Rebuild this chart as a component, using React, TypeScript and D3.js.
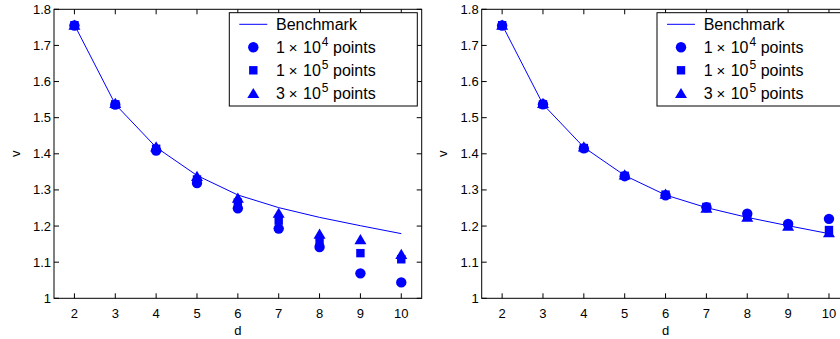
import React from 'react';
import * as d3 from 'd3';

// dimension d on the x axis
const dims = [2, 3, 4, 5, 6, 7, 8, 9, 10];
const xTicks = [2, 3, 4, 5, 6, 7, 8, 9, 10];
const yTicks = [1, 1.1, 1.2, 1.3, 1.4, 1.5, 1.6, 1.7, 1.8];

// benchmark curve (same in both panels)
const benchmark = [1.757, 1.537, 1.418, 1.34, 1.286, 1.251, 1.224, 1.201, 1.179];

// left panel estimates
const left1e4 = [1.755, 1.536, 1.409, 1.319, 1.249, 1.193, 1.142, 1.069, 1.044];
const left1e5 = [1.756, 1.537, 1.414, 1.329, 1.265, 1.215, 1.16, 1.125, 1.108];
const left3e5 = [1.757, 1.54, 1.42, 1.338, 1.278, 1.236, 1.178, 1.163, 1.122];

// right panel estimates
const right1e4 = [1.755, 1.537, 1.415, 1.338, 1.285, 1.252, 1.234, 1.206, 1.22];
const right1e5 = [1.756, 1.537, 1.416, 1.339, 1.287, 1.253, 1.228, 1.202, 1.189];
const right3e5 = [1.757, 1.54, 1.42, 1.342, 1.289, 1.25, 1.225, 1.2, 1.182];

const legendLabels = [
  { kind: 'circle', lead: '1', exp: '4' },
  { kind: 'square', lead: '1', exp: '5' },
  { kind: 'triangle', lead: '3', exp: '5' },
];

const BLUE = '#0000ff';
const FONT = '"Liberation Sans", Arial, sans-serif';

const W = 840;
const H = 339;
const plotW = 367.7;
const plotTop = 9.3;
const plotBottom = 298.3;
const tickLen = 5;

const tri = (cx, cy, s = 6) => `M${cx},${cy - s * 0.9}L${cx + s},${cy + s * 0.8}L${cx - s},${cy + s * 0.8}Z`;

const Marker = ({ kind, cx, cy }) => {
  if (kind === 'circle') return <circle cx={cx} cy={cy} r={5.2} fill={BLUE} />;
  if (kind === 'square') return <rect x={cx - 4.2} y={cy - 4.2} width={8.4} height={8.4} fill={BLUE} />;
  return <path d={tri(cx, cy)} fill={BLUE} />;
};

const Legend = ({ x, y }) => {
  const rowY = (i) => y + 11.6 + i * 23;
  return (
    <g fontFamily={FONT}>
      <rect x={x} y={y} width={188} height={93.3} fill="white" stroke="black" strokeWidth={1} />
      <line x1={x + 10} x2={x + 38} y1={rowY(0)} y2={rowY(0)} stroke={BLUE} strokeWidth={1} />
      <text x={x + 46.7} y={rowY(0)} dy="0.35em" fontSize={16}>Benchmark</text>
      {legendLabels.map((r, i) => (
        <g key={i}>
          <Marker kind={r.kind} cx={x + 24} cy={rowY(i + 1)} />
          <text y={rowY(i + 1)} dy="0.35em" fontSize={16}>
            <tspan x={x + 46.7}>{r.lead}</tspan>
            <tspan x={x + 59.5} fontSize={15}>×</tspan>
            <tspan x={x + 73.7}>10</tspan>
            <tspan x={x + 92.5} dy="-6.5" fontSize={12}>{r.exp}</tspan>
            <tspan x={x + 103.7} dy="6.5">points</tspan>
          </text>
        </g>
      ))}
    </g>
  );
};

const Panel = ({ left, s1, s2, s3 }) => {
  const x = d3.scaleLinear().domain([1.5, 10.5]).range([left, left + plotW]);
  const y = d3.scaleLinear().domain([1, 1.8]).range([plotBottom, plotTop]);
  const line = d3.line<number>().x((_, i) => x(dims[i])).y((v) => y(v));
  const series = [
    { kind: 'circle', vals: s1 },
    { kind: 'square', vals: s2 },
    { kind: 'triangle', vals: s3 },
  ];
  return (
    <g>
      <rect x={left} y={plotTop} width={plotW} height={plotBottom - plotTop} fill="white" />
      {xTicks.map((t) => (
        <g key={'x' + t}>
          <line x1={x(t)} x2={x(t)} y1={plotBottom} y2={plotBottom - tickLen} stroke="black" />
          <line x1={x(t)} x2={x(t)} y1={plotTop} y2={plotTop + tickLen} stroke="black" />
          <text x={x(t)} y={plotBottom + 10} dy="0.71em" textAnchor="middle" fontSize={13} fontFamily={FONT}>{t}</text>
        </g>
      ))}
      {yTicks.map((t) => (
        <g key={'y' + t}>
          <line x1={left} x2={left + tickLen} y1={y(t)} y2={y(t)} stroke="black" />
          <line x1={left + plotW} x2={left + plotW - tickLen} y1={y(t)} y2={y(t)} stroke="black" />
          <text x={left - 3} y={y(t)} dy="0.35em" textAnchor="end" fontSize={13} fontFamily={FONT}>{d3.format('~g')(t)}</text>
        </g>
      ))}
      <rect x={left} y={plotTop} width={plotW} height={plotBottom - plotTop} fill="none" stroke="black" strokeWidth={1} />
      <text x={left + plotW / 2} y={330} dy="0.35em" textAnchor="middle" fontSize={13} fontFamily={FONT}>d</text>
      <text transform={`translate(${left - 39},${(plotTop + plotBottom) / 2}) rotate(-90)`} textAnchor="middle" dy="0.35em" fontSize={13} fontFamily={FONT}>v</text>
      <path d={line(benchmark) || ''} fill="none" stroke={BLUE} strokeWidth={1} />
      {series.map((s) => (
        <g key={s.kind}>
          {s.vals.map((v, i) => (
            <Marker key={i} kind={s.kind} cx={x(dims[i])} cy={y(v)} />
          ))}
        </g>
      ))}
      <Legend x={left + plotW - 192.4} y={plotTop + 3.4} />
    </g>
  );
};

export default function App() {
  return (
    <svg width={W} height={H} style={{ position: 'absolute', left: 0, top: 0, background: 'white' }}>
      <rect width={W} height={H} fill="white" />
      <Panel left={54} s1={left1e4} s2={left1e5} s3={left3e5} />
      <Panel left={481.7} s1={right1e4} s2={right1e5} s3={right3e5} />
    </svg>
  );
}
